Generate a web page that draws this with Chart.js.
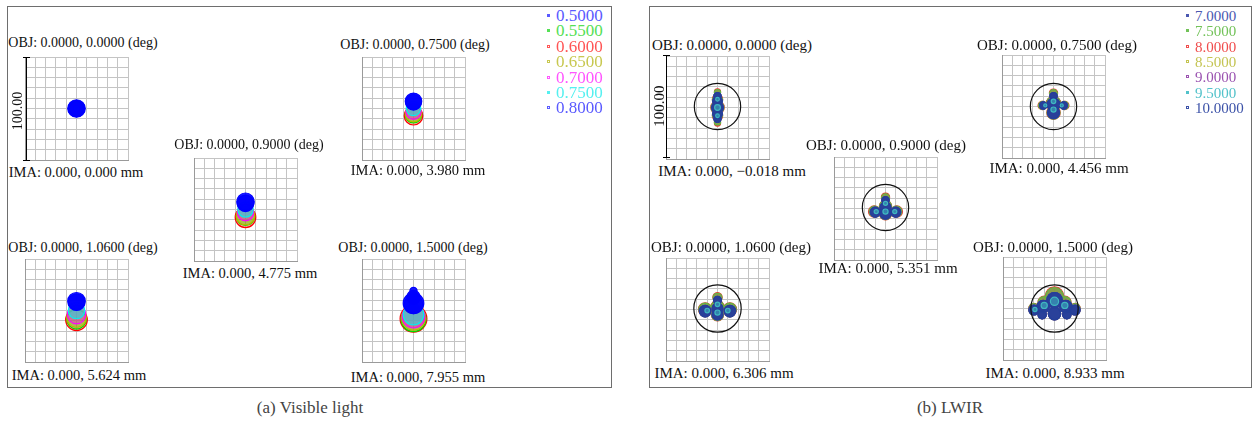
<!DOCTYPE html>
<html>
<head>
<meta charset="utf-8">
<script src="https://cdn.jsdelivr.net/npm/chart.js@4.4.1/dist/chart.umd.min.js"></script>
<style>
  body { margin: 0; width: 1255px; height: 425px; background: #fff; position: relative; overflow: hidden;
         font-family: 'Liberation Serif', 'Times New Roman', serif; }
  .frame { position: absolute; border: 1.5px solid #6e6e6e; box-sizing: border-box; }
  .lbl { position: absolute; white-space: nowrap; transform: translate(-50%, -50%); color: #111; }
  .spot { position: absolute; }
  .bar { position: absolute; background: #000; }
</style>
</head>
<body>
<div class="frame" style="left:7px;top:6px;width:605px;height:382px"></div>
<div class="frame" style="left:649px;top:6px;width:603px;height:382px"></div>

<script>
// ---- data ----
// field angles (deg) and image heights (mm)
const visFields = ['0.0000', '0.7500', '0.9000', '1.0600', '1.5000'];
const visIma = ['0.000', '3.980', '4.775', '5.624', '7.955'];
const lwirFields = ['0.0000', '0.7500', '0.9000', '1.0600', '1.5000'];
const lwirIma = ['\u22120.018', '4.456', '5.351', '6.306', '8.933'];

// wavelengths (um)
const visWaves = ['0.5000', '0.5500', '0.6000', '0.6500', '0.7000', '0.7500', '0.8000'];
const lwirWaves = ['7.0000', '7.5000', '8.0000', '8.5000', '9.0000', '9.5000', '10.0000'];

// spots: per field, per wavelength, list of [x, y, radius] blobs in um (box is 100 um)
const visSpots = [
  [[[0, 0, 8.5]], [[0, 0, 6]], [[0, 0, 7]], [[0, 0, 5]], [[0, 0, 4]], [[0, 0, 2]], [[0, 0, 8]]],
  [[[0, 6, 7.5]], [[0, -6, 8]], [[0, -7, 9]], [[0, -5, 8]], [[0, -3, 7.5]], [[0, 0, 7]], [[0, 7, 8]]],
  [[[0, 6, 8]], [[0, -6.5, 9]], [[0, -7.5, 10]], [[0, -6, 9]], [[0, -3, 8]], [[0, 0, 7.5]], [[0, 7.5, 8.5]]],
  [[[0, 8, 8]], [[0, -8.5, 9.5]], [[0, -9, 10.5]], [[0, -7, 9.5]], [[0, -4, 9]], [[0, 0, 8]], [[0, 9, 8.5]]],
  [[[0, 12, 6], [0, 6, 9]], [[0, -8.5, 12]], [[0, -8, 13]], [[0, -7.5, 11.5]], [[0, -6, 11]], [[0, -4, 10]],
   [[0, 19, 3.5], [0, 13, 6.5], [0, 7, 10]]]
];

// LWIR blob groups: outer rim (8.0), edge (7.5), body (7.0, 8.5, 9.0, 10.0), core (9.5)
const lw0Outer = [[0, 15, 3], [0, 8, 5], [0, 0, 6.5], [0, -8, 5], [0, -15, 3]];
const lw0Edge = [[0, 14.5, 3], [0, 7, 5], [0, 0, 6.2], [0, -7, 5], [0, -14, 3]];
const lw0Body = [[0, 11, 3.5], [0, 6, 4.6], [0, 0, 5.6], [0, -6, 4.6], [0, -11, 3.5]];
const lw0Core = [[0, 8, 1.8], [0, 0, 2.8], [0, -8, 1.8]];
const lw1Outer = [[0, 13, 4], [0, 3, 7], [0, -6, 6.5], [-11, 1, 4], [11, 1, 4]];
const lw1Edge = [[0, 12.5, 3.8], [0, 3, 6.8], [0, -6, 6.3], [-10.5, 1, 4], [10.5, 1, 4]];
const lw1Body = [[0, 10, 3.5], [0, 2, 6.2], [0, -6, 5.8], [-10, 1, 3.5], [10, 1, 3.5]];
const lw1Core = [[0, 5, 2.2], [0, -3, 2.5], [-8, 1, 1.5], [8, 1, 1.5]];
const lw2Outer = [[0, 11, 4], [0, 2, 6], [0, -5, 6], [-11, -3, 5.5], [11, -3, 5.5]];
const lw2Edge = [[0, 10.5, 3.8], [0, 2, 5.8], [0, -5, 5.8], [-10.5, -3, 5.3], [10.5, -3, 5.3]];
const lw2Body = [[0, 8, 3.5], [0, 1, 5.3], [0, -5, 5.3], [-10, -3.5, 4.8], [10, -3.5, 4.8]];
const lw2Core = [[0, 5, 2], [0, -3, 2.5], [-9, -3, 2], [9, -3, 2]];
const lw3Outer = [[0, 12, 4.5], [0, 3, 6], [0, -5, 6], [-12, 0, 6.5], [12, 0, 6.5]];
const lw3Edge = [[0, 11.5, 4.3], [0, 3, 5.8], [0, -5, 5.8], [-12, 0, 6.2], [12, 0, 6.2]];
const lw3Body = [[0, 9, 3.8], [0, 1, 5.2], [0, -5, 5.2], [-12, -1.5, 5.6], [12, -1.5, 5.6]];
const lw3Core = [[0, 5, 2.2], [0, -3, 2.5], [-10, -1, 2.2], [10, -1, 2.2]];
const lw4Outer = [[0, 12, 9], [-10, 6, 6], [10, 6, 6], [-20, 0, 5], [20, 0, 5]];
const lw4Edge = [[0, 11.5, 8.7], [-10, 5.5, 6], [10, 5.5, 6], [-20, 0, 4.8], [20, 0, 4.8]];
const lw4Body = [[0, 8, 7.5], [-11, 2, 6], [11, 2, 6], [-20, -1.5, 4.8], [20, -1.5, 4.8], [0, -5, 6],
                 [-12, -6, 4], [12, -6, 4]];
const lw4Core = [[0, 7, 4], [-10, 3, 3], [10, 3, 3], [-19, -1, 2]];

const lwirSpots = [
  [lw0Body, lw0Edge, lw0Outer, lw0Body, lw0Body, lw0Core, lw0Body],
  [lw1Body, lw1Edge, lw1Outer, lw1Body, lw1Body, lw1Core, lw1Body],
  [lw2Body, lw2Edge, lw2Outer, lw2Body, lw2Body, lw2Core, lw2Body],
  [lw3Body, lw3Edge, lw3Outer, lw3Body, lw3Body, lw3Core, lw3Body],
  [lw4Body, lw4Edge, lw4Outer, lw4Body, lw4Body, lw4Core, lw4Body]
];
// airy disk: [x, y, radius] um
const lwirAiry = [[0, 1, 22.5], [0, 0, 22.5], [0, 1, 22.5], [0, 1, 23], [0, 0, 23]];

// ---- styles ----
const visColors = ['#0000ff', '#00dd00', '#ff0000', '#b8b800', '#ff00ff', '#00f0f0', '#0000ff'];
const visFill = ['rgba(0,0,255,0.85)', 'rgba(0,220,0,0.35)', 'rgba(255,0,0,0.3)', 'rgba(184,184,0,0.35)',
                 'rgba(255,0,255,0.4)', 'rgba(0,240,240,0.5)', 'rgba(0,0,255,0.9)'];
const visText = ['#5a5aff', '#55e055', '#ff5555', '#c8c850', '#ff55ff', '#55f0f0', '#5a5aff'];
const visRank = [1, 5, 6, 4, 3, 2, 0]; // 0 = on top
const lwirColors = ['#2e3f9a', '#5fb846', '#e8352f', '#b8b83a', '#8e3f9e', '#3fb8c0', '#25409a'];
const lwirFill = ['rgba(46,63,154,0.9)', 'rgba(95,184,70,0.7)', 'rgba(232,53,47,0.8)', 'rgba(184,184,58,0.5)',
                  'rgba(142,63,158,0.7)', 'rgba(63,184,192,0.55)', 'rgba(37,64,154,0.75)'];
const lwirText = ['#4a58b0', '#72c258', '#f04c4c', '#c4c452', '#9a52b0', '#52c2ca', '#3c52a8'];
const lwirRank = [2, 5, 6, 4, 3, 0, 1];

const SIZE = 103;

function umToPx(ctx) {
  if (!ctx.raw) return 0;
  const sc = ctx.chart.scales.x;
  return Math.abs(sc.getPixelForValue(ctx.raw.s) - sc.getPixelForValue(0));
}

function label(text, cx, cy, size, color, rotate) {
  const d = document.createElement('div');
  d.className = 'lbl';
  d.textContent = text;
  d.style.left = cx + 'px';
  d.style.top = cy + 'px';
  d.style.fontSize = size + 'px';
  if (color) d.style.color = color;
  if (rotate) d.style.transform = 'translate(-50%, -50%) rotate(-90deg)';
  document.body.appendChild(d);
}

function spotChart(left, top, spots, colors, fills, rank, airy) {
  const wrap = document.createElement('div');
  wrap.className = 'spot';
  wrap.style.left = (left - 2) + 'px';
  wrap.style.top = (top - 2) + 'px';
  wrap.style.width = (SIZE + 4) + 'px';
  wrap.style.height = (SIZE + 4) + 'px';
  const cv = document.createElement('canvas');
  wrap.appendChild(cv);
  document.body.appendChild(wrap);

  const datasets = spots.map((blobs, i) => ({
    data: blobs.map(b => ({ x: b[0], y: b[1], s: b[2] })),
    backgroundColor: fills[i],
    borderColor: colors[i],
    borderWidth: 1.2,
    order: rank[i] + 1
  }));
  if (airy) {
    datasets.push({
      data: [{ x: airy[0], y: airy[1], s: airy[2] }],
      backgroundColor: 'rgba(0,0,0,0)',
      borderColor: '#111',
      borderWidth: 1.2,
      order: 0
    });
  }

  const axis = {
    min: -50, max: 50,
    ticks: { display: false, stepSize: 10 },
    grid: { color: '#c4c4c4', drawTicks: false, lineWidth: 1 },
    border: { color: '#9a9a9a' }
  };
  new Chart(cv, {
    type: 'scatter',
    data: { datasets },
    options: {
      responsive: true,
      maintainAspectRatio: false,
      animation: false,
      events: [],
      layout: { padding: 2 },
      elements: { point: { radius: umToPx, hoverRadius: umToPx, pointStyle: 'circle' } },
      plugins: { legend: { display: false }, tooltip: { enabled: false } },
      scales: { x: axis, y: axis }
    }
  });
}

// ---- visible light panel ----
const visGrid = [[25, 57], [362, 57], [194, 158], [25, 259], [362, 259]];
const visObjPos = [[83, 43], [415, 45], [249, 145], [83, 248], [413, 248]];
const visImaPos = [[76, 172], [418, 170], [250, 273], [79, 375], [418, 377]];
visFields.forEach((f, i) => {
  spotChart(visGrid[i][0], visGrid[i][1], visSpots[i], visColors, visFill, visRank, null);
  label('OBJ: 0.0000, ' + f + ' (deg)', visObjPos[i][0], visObjPos[i][1], 14);
  label('IMA: 0.000, ' + visIma[i] + ' mm', visImaPos[i][0], visImaPos[i][1], 14.5);
});

// ---- LWIR panel ----
const lwirGrid = [[666, 56], [1002, 55], [834, 157], [666, 258], [1003, 257]];
const lwirObjPos = [[732, 45], [1057, 45], [886, 145], [731, 247], [1053, 247]];
const lwirImaPos = [[732, 171], [1059, 168], [888, 268], [724, 373], [1055, 373]];
lwirFields.forEach((f, i) => {
  spotChart(lwirGrid[i][0], lwirGrid[i][1], lwirSpots[i], lwirColors, lwirFill, lwirRank, lwirAiry[i]);
  label('OBJ: 0.0000, ' + f + ' (deg)', lwirObjPos[i][0], lwirObjPos[i][1], 15);
  label('IMA: 0.000, ' + lwirIma[i] + ' mm', lwirImaPos[i][0], lwirImaPos[i][1], 15);
});

// ---- scale bars ----
function scaleBar(x, y0, y1, tx, ty, size) {
  const mk = (l, t, w, h) => {
    const b = document.createElement('div');
    b.className = 'bar';
    b.style.cssText = `left:${l}px;top:${t}px;width:${w}px;height:${h}px`;
    document.body.appendChild(b);
  };
  mk(x - 0.5, y0, 1.2, y1 - y0);
  mk(x - 3, y0, 7, 1.2);
  mk(x - 3, y1 - 1, 7, 1.2);
  label('100.00', tx, ty, size, '#111', true);
}
scaleBar(26, 57, 161, 18, 111, 14);
scaleBar(666, 55, 158, 659, 106, 15);

// ---- legends ----
function legend(waves, textColors, markX, textX, y0, step, size) {
  waves.forEach((w, i) => {
    const y = y0 + i * step;
    const m = document.createElement('div');
    m.style.cssText = `position:absolute;left:${markX - 2}px;top:${y - 2}px;width:3px;height:3px;` +
      (i < 2 ? `background:${textColors[i]};` : `border:1px solid ${textColors[i]};box-sizing:border-box;background:${i === 5 ? textColors[i] : '#fff'};`);
    document.body.appendChild(m);
    const t = document.createElement('div');
    t.style.cssText = `position:absolute;left:${textX}px;top:${y}px;transform:translateY(-50%);font-size:${size}px;color:${textColors[i]};white-space:nowrap;`;
    t.textContent = w;
    document.body.appendChild(t);
  });
}
legend(visWaves, visText, 549, 556, 16, 15.4, 17);
legend(lwirWaves, lwirText, 1188, 1195, 16, 15.3, 15);

// ---- captions ----
label('(a) Visible light', 310, 408, 17, '#444');
label('(b) LWIR', 950, 408, 17, '#444');
</script>
</body>
</html>
